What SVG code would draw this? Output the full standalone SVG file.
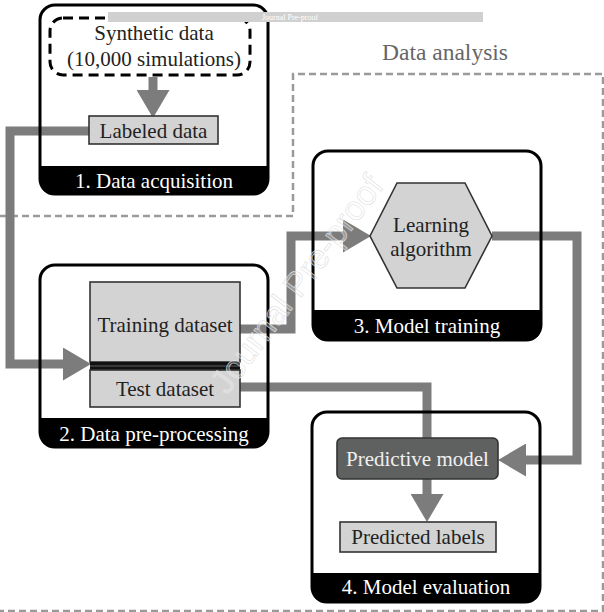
<svg xmlns="http://www.w3.org/2000/svg" width="604" height="612" viewBox="0 0 604 612">
  <style>
    .frame { fill: none; stroke: #000; stroke-width: 3; }
    .band { fill: #000; }
    .band-text { font-family: "Liberation Serif", "Times New Roman", serif; font-size: 21px; fill: #fff; text-anchor: middle; }
    .label { font-family: "Liberation Serif", "Times New Roman", serif; font-size: 21px; fill: #222; text-anchor: middle; }
    .item { fill: #d3d3d3; stroke: #333; stroke-width: 1.6; }
    .wire { fill: none; stroke: #7c7c7c; stroke-width: 9; stroke-linejoin: miter; }
    .region { fill: none; stroke: #9a9a9a; stroke-width: 2.5; stroke-dasharray: 7 4; }
  </style>
  <defs>
    <marker id="head" markerUnits="userSpaceOnUse" markerWidth="28" markerHeight="33" viewBox="0 0 28 33" refX="0" refY="16.5" orient="auto">
      <path d="M0,0 L28,16.5 L0,33 Z" fill="#7c7c7c"/>
    </marker>
  </defs>

  <rect width="604" height="612" fill="#fff"/>

  <!-- Data analysis region -->
  <g id="data-analysis">
    <polyline class="region" points="0,216 293,216 293,74 603,74 603,611 0,611"/>
    <text x="445" y="60" font-family="Liberation Serif, Times New Roman, serif" font-size="23.5" fill="#666" text-anchor="middle">Data analysis</text>
  </g>

  <!-- connectors -->
  <g id="connectors">
    <path class="wire" d="M153,77 V90" marker-end="url(#head)"/>
    <path class="wire" d="M89,131 H10 V364 H63" marker-end="url(#head)"/>
    <path class="wire" d="M240,329 H291 V236 H343" marker-end="url(#head)"/>
    <path class="wire" d="M492,236 H577 V460 H526" marker-end="url(#head)"/>
    <path class="wire" d="M240,387 H427 V438"/>
    <path class="wire" d="M427,479 V494" marker-end="url(#head)"/>
  </g>

  <!-- 1. Data acquisition -->
  <g id="data-acquisition">
    <path class="band" d="M40,166 H268 V180 Q268,194 254,194 H54 Q40,194 40,180 Z"/>
    <rect class="frame" x="40" y="5" width="228" height="189" rx="15"/>
    <text class="band-text" x="154" y="188">1. Data acquisition</text>
    <g id="synthetic-data">
      <rect x="50" y="18" width="200" height="57" rx="13" fill="#fff" stroke="#000" stroke-width="3" stroke-dasharray="10 6"/>
      <text class="label" x="154" y="40">Synthetic data</text>
      <text class="label" x="154" y="66">(10,000 simulations)</text>
    </g>
    <g id="labeled-data">
      <rect class="item" x="89" y="116" width="129" height="28"/>
      <text class="label" x="153.5" y="138">Labeled data</text>
    </g>
  </g>

  <!-- 2. Data pre-processing -->
  <g id="data-preprocessing">
    <path class="band" d="M40,418 H268 V433 Q268,447 254,447 H54 Q40,447 40,433 Z"/>
    <rect class="frame" x="40" y="265" width="228" height="182" rx="15"/>
    <text class="band-text" x="154" y="441">2. Data pre-processing</text>
    <g id="training-dataset">
      <rect class="item" x="90" y="282" width="150" height="80"/>
      <text class="label" x="165" y="332">Training dataset</text>
    </g>
    <rect x="90" y="362" width="150" height="8" fill="#111"/>
    <line x1="90" y1="366" x2="240" y2="366" stroke="#444" stroke-width="1.5"/>
    <g id="test-dataset">
      <rect class="item" x="90" y="370" width="150" height="37"/>
      <text class="label" x="165" y="396">Test dataset</text>
    </g>
  </g>

  <!-- 3. Model training -->
  <g id="model-training">
    <path class="band" d="M313,310 H541 V326 Q541,340 527,340 H327 Q313,340 313,326 Z"/>
    <rect class="frame" x="313" y="151" width="228" height="189" rx="15"/>
    <text class="band-text" x="427" y="333">3. Model training</text>
    <g id="learning-algorithm">
      <polygon class="item" points="370,236 397,183 465,183 492,236 465,288 397,288"/>
      <text class="label" x="431" y="232">Learning</text>
      <text class="label" x="431" y="256">algorithm</text>
    </g>
  </g>

  <!-- 4. Model evaluation -->
  <g id="model-evaluation">
    <path class="band" d="M312,573 H540 V588 Q540,602 526,602 H326 Q312,602 312,588 Z"/>
    <rect class="frame" x="312" y="412" width="228" height="190" rx="15"/>
    <text class="band-text" x="426" y="594">4. Model evaluation</text>
    <g id="predictive-model">
      <rect x="337" y="438" width="161" height="41" rx="5" fill="#5f6161" stroke="#333" stroke-width="1.6"/>
      <text class="label" x="417.5" y="466" style="fill:#f0f0f0">Predictive model</text>
    </g>
    <g id="predicted-labels">
      <rect class="item" x="340" y="522" width="156" height="30"/>
      <text class="label" x="418" y="544">Predicted labels</text>
    </g>
  </g>

  <!-- proof watermark -->
  <g id="proof-mark">
    <rect x="108" y="12" width="375" height="10" fill="#d0d0d0"/>
    <text x="290" y="20" font-family="Liberation Serif, serif" font-size="8" fill="#fff" text-anchor="middle">Journal Pre-proof</text>
    <text x="0" y="0" transform="translate(306,291) rotate(-53)" font-family="Liberation Sans, Arial, sans-serif" font-size="34" text-anchor="middle" fill="#fff" fill-opacity="0.25" stroke="#e0e0e0" stroke-width="0.6">Journal Pre-proof</text>
  </g>
</svg>
